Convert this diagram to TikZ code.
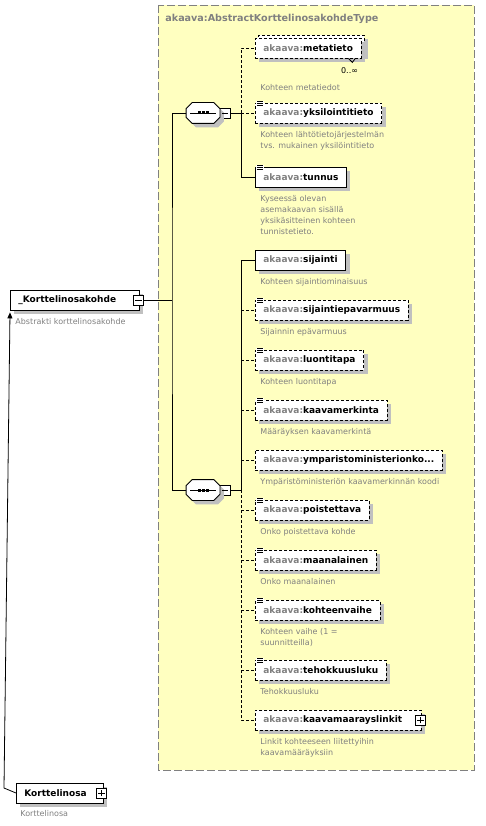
\documentclass[tikz,border=0pt]{standalone}
\usepackage{fontspec}
\setmainfont{DejaVu Sans}
\usetikzlibrary{shadows,arrows.meta}
\definecolor{boxyellow}{RGB}{255,255,192}
\definecolor{shadegray}{RGB}{192,192,192}
\definecolor{textgray}{RGB}{128,128,128}
\newcommand{\ak}{\textcolor{textgray}{akaava:}}

\begin{document}
\begin{tikzpicture}[x=1pt,y=-1pt,line width=0.8pt,
    shade/.style={drop shadow={shadow xshift=4pt,shadow yshift=-4pt,fill=shadegray,opacity=1}},
    elem/.style={draw,fill=white,shade,anchor=west,minimum height=20pt,inner ysep=0pt,inner xsep=8pt,
      font=\bfseries\fontsize{9}{11}\selectfont},
    optional/.style={elem,dash pattern=on 3pt off 2pt},
    opt/.style={dash pattern=on 3pt off 2pt},
    seq/.style={minimum width=33pt,minimum height=20pt,inner sep=0pt},
    pm/.style={draw,fill=white,minimum size=10pt,inner sep=0pt},
    desc/.style={anchor=north west,align=left,inner sep=0pt,text=textgray,font=\fontsize{8}{11}\selectfont}]
  \useasboundingbox (0,0) rectangle (485,826);

  \draw[textgray,fill=boxyellow,dash pattern=on 8pt off 3pt] (158,5) rectangle (474,770);
  \node[anchor=west,inner sep=0pt,text=textgray,font=\bfseries\fontsize{9.6}{11}\selectfont] (title) at (165,19)
    {akaava:AbstractKorttelinosakohdeType};

  % abstract element and its content model
  \node[elem,text width=113pt,align=left] (kohde) at (10,300) {\_Korttelinosakohde};
  \node[pm] (kohdem) at ([xshift=-1pt]kohde.east) {};
  \draw ([xshift=2pt]kohdem.west) -- ([xshift=-2pt]kohdem.east);
  \node[desc] (kohded) at (15,318) {Abstrakti korttelinosakohde};

  \node[seq] (seq1) at (203,113) {};
  \node[pm] (seq1m) at (225,113) {};
  \node[seq] (seq2) at (203,490) {};
  \node[pm] (seq2m) at (225,490) {};
  \foreach \s in {seq1,seq2} {
    \draw[fill=white,shade] ([xshift=6pt]\s.north west) -- ([xshift=-6pt]\s.north east)
      -- ([yshift=-6pt]\s.north east) -- ([yshift=6pt]\s.south east) -- ([xshift=-6pt]\s.south east)
      -- ([xshift=6pt]\s.south west) -- ([yshift=6pt]\s.south west) -- ([yshift=-6pt]\s.north west) -- cycle;
    \draw ([xshift=4pt]\s.west) -- ([xshift=-4pt]\s.east);
    \foreach \dx in {-4,0,4}
      \fill ([xshift=\dx pt]\s.center) +(-1.5,-1.5) rectangle +(1.5,1.5);
    \draw ([xshift=2pt]\s m.west) -- ([xshift=-2pt]\s m.east);
  }

  \coordinate (j0) at (172,300);
  \coordinate (b1) at (241,113);
  \coordinate (b2) at (241,490);

  % first sequence
  \node[optional] (metaback) at (258,45) {\phantom{\ak metatieto}};
  \node[optional] (meta) at (255,48) {\ak metatieto};
  \node[anchor=north east,inner sep=0pt,font=\fontsize{8}{10}\selectfont] (metaocc)
    at ([shift={(-3,9)}]meta.south east) {0..∞};
  \draw ([shift={(-13,0)}]meta.south east) -- ++(4,4) -- ++(3,-4);
  \node[desc] (metad) at ([shift={(5,26)}]meta.south west) {Kohteen metatiedot};

  \node[optional] (yksi) at (255,113) {\ak yksilointitieto};
  \node[desc] (yksid) at ([shift={(5,8)}]yksi.south west) {Kohteen lähtötietojärjestelmän\\ tvs. mukainen yksilöintitieto};

  \node[elem] (tunnus) at (255,177) {\ak tunnus};
  \node[desc] (tunnusd) at ([shift={(5,8)}]tunnus.south west)
    {Kyseessä olevan\\asemakaavan sisällä\\yksikäsitteinen kohteen\\tunnistetieto.};

  % second sequence
  \node[elem] (sij) at (255,260) {\ak sijainti};
  \node[desc] (sijd) at ([shift={(5,8)}]sij.south west) {Kohteen sijaintiominaisuus};
  \node[optional] (epav) at (255,310) {\ak sijaintiepavarmuus};
  \node[desc] (epavd) at ([shift={(5,8)}]epav.south west) {Sijainnin epävarmuus};
  \node[optional] (luonti) at (255,360) {\ak luontitapa};
  \node[desc] (luontid) at ([shift={(5,8)}]luonti.south west) {Kohteen luontitapa};
  \node[optional] (merk) at (255,410) {\ak kaavamerkinta};
  \node[desc] (merkd) at ([shift={(5,8)}]merk.south west) {Määräyksen kaavamerkintä};
  \node[optional] (ymp) at (255,460) {\ak ymparistoministerionko...};
  \node[desc] (ympd) at ([shift={(5,8)}]ymp.south west) {Ympäristöministeriön kaavamerkinnän koodi};
  \node[optional] (poist) at (255,510) {\ak poistettava};
  \node[desc] (poistd) at ([shift={(5,8)}]poist.south west) {Onko poistettava kohde};
  \node[optional] (maan) at (255,560) {\ak maanalainen};
  \node[desc] (maand) at ([shift={(5,8)}]maan.south west) {Onko maanalainen};
  \node[optional] (vaihe) at (255,610) {\ak kohteenvaihe};
  \node[desc] (vaihed) at ([shift={(5,8)}]vaihe.south west) {Kohteen vaihe (1 =\\suunnitteilla)};
  \node[optional] (tehok) at (255,670) {\ak tehokkuusluku};
  \node[desc] (tehokd) at ([shift={(5,8)}]tehok.south west) {Tehokkuusluku};
  \node[optional,text width=150pt,align=left] (linkit) at (255,720) {\ak kaavamaarayslinkit};
  \node[pm] (linkitp) at ([xshift=-1pt]linkit.east) {};
  \draw ([xshift=2pt]linkitp.west) -- ([xshift=-2pt]linkitp.east)
        ([yshift=2pt]linkitp.south) -- ([yshift=-2pt]linkitp.north);
  \node[desc] (linkitd) at ([shift={(5,8)}]linkit.south west) {Linkit kohteeseen liitettyihin\\kaavamääräyksiin};

  % simple type marks
  \foreach \n in {yksi,tunnus,epav,luonti,merk,poist,maan,vaihe,tehok} {
    \fill[white] ([shift={(1,-2)}]\n.north west) rectangle ++(8,7);
    \foreach \d in {-1,1,3}
      \draw ([shift={(2,\d)}]\n.north west) -- ++(6,0);
  }

  % connectors
  \draw (kohdem.east) -- (j0);
  \draw (seq1.west) -| (j0) |- (seq2.west);
  \draw (seq1m.east) -- (b1);
  \draw[opt] (b1) |- (meta.west);
  \draw[opt] (b1) -- (yksi.west);
  \draw (b1) |- (tunnus.west);
  \draw (seq2m.east) -- (b2);
  \foreach \n in {epav,luonti,merk,ymp,poist,maan,vaihe,tehok,linkit}
    \draw[opt] (b2) |- (\n.west);
  \draw (b2) |- (sij.west);

  % derived element
  \node[elem,text width=71pt,align=left] (osa) at (16,793) {Korttelinosa};
  \node[pm] (osap) at ([xshift=-2pt]osa.east) {};
  \draw ([xshift=2pt]osap.west) -- ([xshift=-2pt]osap.east)
        ([yshift=2pt]osap.south) -- ([yshift=-2pt]osap.north);
  \node[desc] (osad) at (20,810) {Korttelinosa};
  \draw[-{Triangle[width=5pt,length=6pt]}] (osa.west) -- ([shift={(-6,-5)}]osa.west -| kohde.west)
    -- ([shift={(0,2)}]kohde.south west);
\end{tikzpicture}
\end{document}
